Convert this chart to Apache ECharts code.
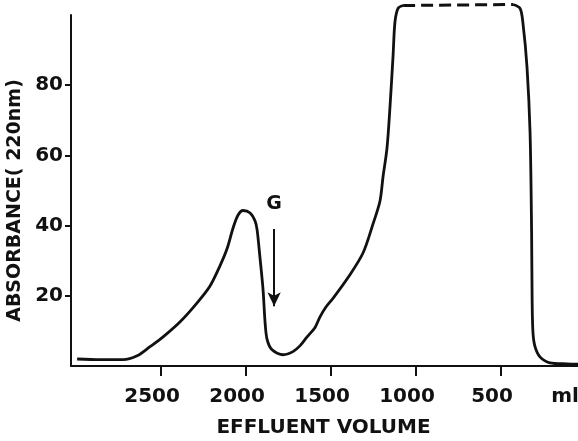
<!DOCTYPE html>
<html>
<head>
<meta charset="utf-8">
<script src="https://cdn.jsdelivr.net/npm/echarts@6/dist/echarts.min.js"></script>
<style>
	html, body { margin: 0; padding: 0; background: #fff; }
	#chart { width: 578px; height: 441px; }
</style>
</head>
<body>
<div id="chart"></div>
<script>
// effluent volume (ml) and absorbance, left to right
var risingVolume = [2994, 2859, 2724, 2641, 2565, 2488, 2388, 2288, 2212, 2153, 2112, 2076, 2047, 2018, 1976, 1947, 1935, 1918, 1900, 1888, 1876, 1847, 1782, 1724, 1682, 1641, 1594, 1565, 1530, 1488, 1400, 1312, 1253, 1212, 1194, 1171, 1153, 1135, 1124, 1106, 1076];
var risingAbs = [2.0, 1.8, 1.8, 2.9, 5.5, 8.3, 12.6, 18.0, 22.8, 28.6, 33.4, 39.4, 43.0, 44.3, 43.6, 41.3, 38.8, 30.8, 21.7, 12.3, 7.5, 4.6, 3.2, 4.1, 5.8, 8.3, 11.0, 14.0, 16.8, 19.3, 25.2, 32.2, 40.5, 47.0, 54.0, 62.0, 74.0, 88.5, 98.0, 101.9, 102.7];

// off-scale part, drawn dashed
var plateauVolume = [1076, 429];
var plateauAbs = [102.7, 103.0];

var fallingVolume = [429, 388, 371, 347, 329, 320, 317, 312, 300, 271, 212, 112, 47];
var fallingAbs = [103.0, 101.9, 97.7, 85.1, 66.3, 37.9, 18.9, 9.5, 5.5, 2.6, 0.9, 0.6, 0.5];

var xTicks = [2500, 2000, 1500, 1000, 500];
var unitPos = 70; // where the "ml" unit label sits
var yTicks = [20, 40, 60, 80];

// marker G (arrow)
var markerVolume = 1835;
var markerFrom = 39;
var markerTo = 17;

function pairs(xs, ys) {
	var out = [];
	for (var i = 0; i < xs.length; i++) out.push([xs[i], ys[i]]);
	return out;
}

var font = 'DejaVu Sans';
var ink = '#111';

var myChart = echarts.init(document.getElementById('chart'));
var option = {
	animation: false,
	backgroundColor: '#fff',
	grid: { left: 71, right: -8, top: 15, bottom: 75, containLabel: false, outerBoundsMode: 'none' },
	xAxis: {
		type: 'value',
		inverse: true,
		min: 0,
		max: 3030,
		splitLine: { show: false },
		axisLine: { lineStyle: { color: ink, width: 2 } },
		axisTick: { customValues: xTicks, length: 10, lineStyle: { color: ink, width: 2 } },
		axisLabel: {
			customValues: xTicks.concat([unitPos]),
			formatter: function (v) { return v === unitPos ? 'ml' : String(v); },
			margin: 21,
			padding: [0, 18, 0, 0],
			color: ink,
			fontFamily: font,
			fontWeight: 'bold',
			fontSize: 20
		},
		name: 'EFFLUENT VOLUME',
		nameLocation: 'middle',
		nameGap: 52,
		nameTextStyle: { color: ink, fontFamily: font, fontWeight: 'bold', fontSize: 20, padding: [0, 10, 0, 0] }
	},
	yAxis: {
		type: 'value',
		min: 0,
		max: 100,
		interval: 20,
		splitLine: { show: false },
		axisLine: { show: true, onZero: false, lineStyle: { color: ink, width: 2 } },
		axisTick: { customValues: yTicks, length: 6, lineStyle: { color: ink, width: 2 } },
		axisLabel: {
			customValues: yTicks,
			margin: 8,
			color: ink,
			fontFamily: font,
			fontWeight: 'bold',
			fontSize: 20
		},
		name: 'ABSORBANCE( 220nm)',
		nameLocation: 'middle',
		nameGap: 42,
		nameTextStyle: { color: ink, fontFamily: font, fontWeight: 'bold', fontSize: 19, padding: [0, 20, 0, 0] }
	},
	series: [{
		name: 'rising',
		type: 'line',
		data: pairs(risingVolume, risingAbs),
		showSymbol: false,
		smooth: 0.3,
		clip: false,
		lineStyle: { color: ink, width: 2.8 },
		markLine: {
			silent: true,
			symbol: ['none', 'arrow'],
			symbolSize: [10, 14],
			lineStyle: { color: ink, width: 2, type: 'solid' },
			label: {
				show: true,
				position: 'start',
				distance: 16,
				formatter: 'G',
				color: ink,
				fontFamily: font,
				fontWeight: 'bold',
				fontSize: 19
			},
			data: [[{ coord: [markerVolume, markerFrom] }, { coord: [markerVolume, markerTo] }]]
		}
	}, {
		name: 'plateau',
		type: 'line',
		data: pairs(plateauVolume, plateauAbs),
		showSymbol: false,
		clip: false,
		lineStyle: { color: ink, width: 3, type: [12, 6] }
	}, {
		name: 'falling',
		type: 'line',
		data: pairs(fallingVolume, fallingAbs),
		showSymbol: false,
		smooth: 0.3,
		clip: false,
		lineStyle: { color: ink, width: 2.8 }
	}]
};
myChart.setOption(option);
</script>
</body>
</html>
